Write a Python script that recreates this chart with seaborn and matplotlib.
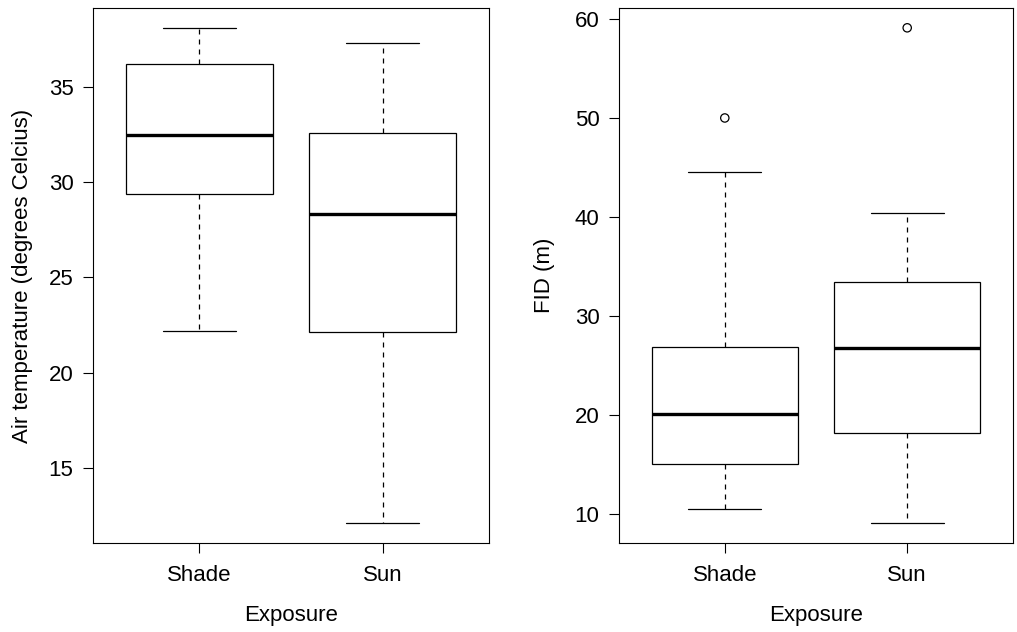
import numpy as np
import pandas as pd
import matplotlib
matplotlib.use("Agg")
import matplotlib.pyplot as plt
from matplotlib.collections import PathCollection
import seaborn as sns

# Exposure groups
groups = ["Shade", "Sun"]

# Five-number summaries per group: lower whisker, Q1, median, Q3, upper whisker
air_shade = [22.2, 29.4, 32.45, 36.2, 38.1]
air_sun = [12.1, 22.15, 28.35, 32.6, 37.3]
fid_shade = [10.5, 15.05, 20.1, 26.9, 44.55]
fid_sun = [9.1, 18.2, 26.8, 33.45, 40.4]

# Points beyond the whiskers (FID only)
fid_out_groups = ["Shade", "Sun"]
fid_out_values = [50.0, 59.1]

air_ticks = [15, 20, 25, 30, 35]
fid_ticks = [10, 20, 30, 40, 50, 60]

sns.set_theme(style="ticks")
plt.rcParams["font.family"] = ["Liberation Sans", "DejaVu Sans"]
plt.rcParams.update({
    "font.size": 16,
    "axes.linewidth": 0.8,
    "axes.edgecolor": "black",
    "xtick.major.size": 7,
    "ytick.major.size": 7,
    "xtick.major.width": 0.8,
    "ytick.major.width": 0.8,
    "xtick.major.pad": 8.5,
    "ytick.major.pad": 7,
    "xtick.labelsize": 16,
    "ytick.labelsize": 16,
    "axes.labelsize": 16,
    "xtick.color": "black",
    "ytick.color": "black",
    "text.color": "black",
    "axes.labelcolor": "black",
})


def long_frame(shade, sun):
    return pd.DataFrame({
        "Exposure": ["Shade"] * len(shade) + ["Sun"] * len(sun),
        "value": list(shade) + list(sun),
    })


def r_limits(values):
    lo, hi = min(values), max(values)
    pad = 0.04 * (hi - lo)
    return lo - pad, hi + pad


def draw_panel(ax, df, ticks, ylabel, ylab_x, outliers=None):
    sns.boxplot(
        data=df, x="Exposure", y="value", order=groups, ax=ax,
        width=0.8, whis=np.inf, fill=True, color="white",
        linecolor="black", linewidth=0.9,
        whiskerprops=dict(linestyle=(0, (4, 4)), linewidth=0.9),
        medianprops=dict(linewidth=2.4, color="black"),
        capprops=dict(linewidth=0.9),
    )
    allv = list(df["value"])
    if outliers is not None:
        sns.stripplot(
            data=outliers, x="Exposure", y="value", order=groups, ax=ax,
            jitter=False, size=6, color="black", linewidth=0.9,
            edgecolor="black", marker="o", zorder=5,
        )
        # open circles for the outlying points
        for coll in ax.collections:
            if isinstance(coll, PathCollection):
                coll.set_facecolor("none")
                coll.set_edgecolor("black")
        allv += list(outliers["value"])
    ax.set_xlim(-0.58, 1.58)
    ax.set_ylim(*r_limits(allv))
    ax.set_yticks(ticks)
    ax.set_yticklabels([str(t) for t in ticks])
    ax.set_xticks([0, 1])
    ax.set_xticklabels(groups)
    for s in ax.spines.values():
        s.set_visible(True)
        s.set_color("black")
        s.set_linewidth(0.8)
    ax.set_xlabel("Exposure")
    ax.set_ylabel(ylabel)
    ax.xaxis.set_label_coords(0.5, -0.136)
    ax.xaxis.label.set_va("center")
    ax.yaxis.set_label_coords(ylab_x, 0.5)
    ax.yaxis.label.set_va("center")
    ax.set_facecolor("white")


fig = plt.figure(figsize=(10.17, 6.32), dpi=100)
fig.patch.set_facecolor("white")
ax1 = fig.add_axes([93 / 1017, 89 / 632, 396 / 1017, 535 / 632])
ax2 = fig.add_axes([619 / 1017, 89 / 632, 394 / 1017, 535 / 632])

draw_panel(ax1, long_frame(air_shade, air_sun), air_ticks,
           "Air temperature (degrees Celcius)", -0.179)
draw_panel(ax2, long_frame(fid_shade, fid_sun), fid_ticks, "FID (m)", -0.188,
           outliers=pd.DataFrame({"Exposure": fid_out_groups,
                                  "value": fid_out_values}))

fig.savefig("out.png", dpi=100, facecolor="white")
